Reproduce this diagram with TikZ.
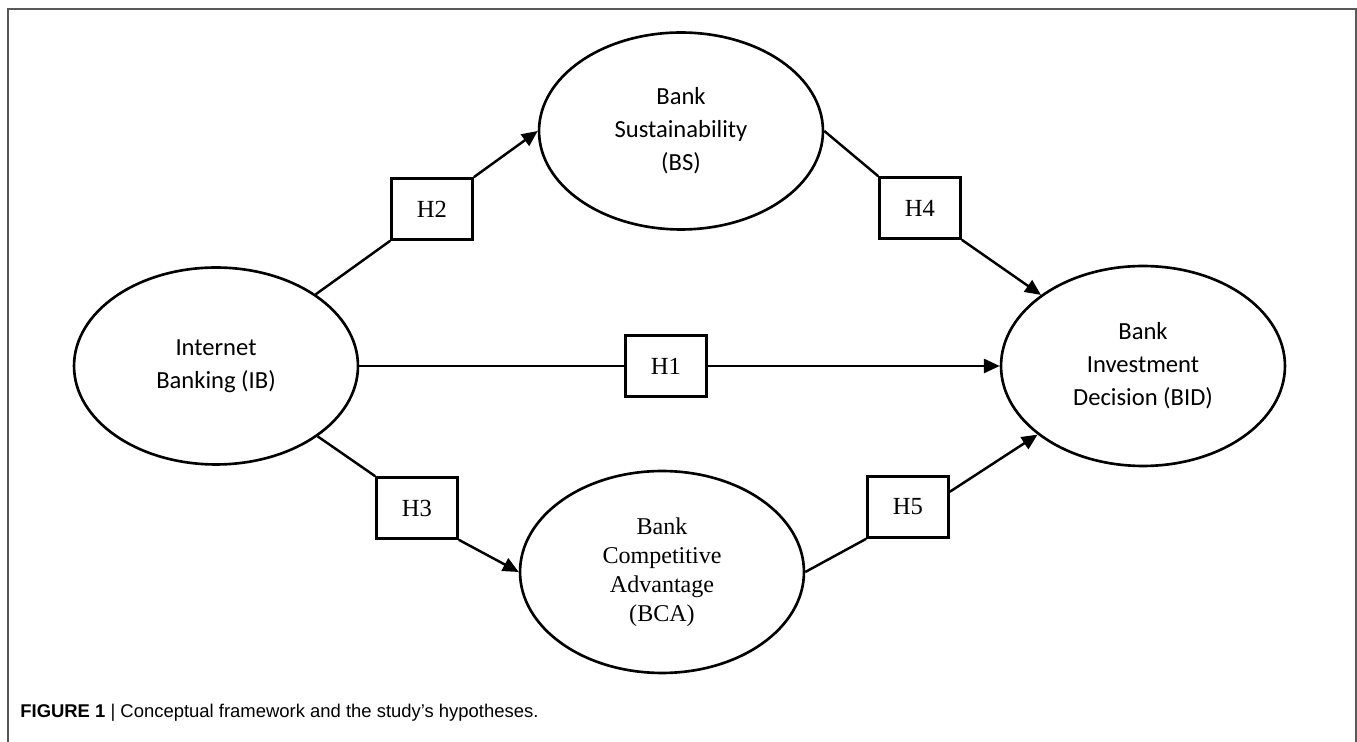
\documentclass[tikz,border=0pt]{standalone}
\usepackage{fontspec}
\usepackage{tikz}
\usetikzlibrary{shapes.geometric,arrows.meta,positioning}
\newfontfamily\calfont{Carlito}
\newfontfamily\timesfont{Liberation Serif}
\newfontfamily\capfont{Liberation Sans}

\begin{document}
\begin{tikzpicture}[x=0.02cm,y=-0.02cm,
    construct/.style={ellipse,draw,line width=1.5pt,minimum width=5.68cm,minimum height=3.94cm,
        inner sep=0pt,align=center,font=\calfont\fontsize{14}{18.7}\selectfont},
    hypo/.style={rectangle,draw,line width=1.5pt,minimum width=1.62cm,minimum height=1.22cm,
        fill=white,font=\timesfont\fontsize{14}{16}\selectfont},
    link/.style={line width=1.4pt},
    arr/.style={line width=1.4pt,-{Triangle[length=9pt,width=8pt]}}]
    \useasboundingbox (0,0) rectangle (1357,742);
    % frame round the figure
    \draw[gray!70!black,line width=1.1pt] (8,742) -- (8,9) -- (1356,9) -- (1356,742);

    % constructs
    \node[construct] (IB) at (216,366) {Internet\\Banking (IB)};
    \node[construct] (BS) at (681,131) {Bank\\Sustainability\\(BS)};
    \node[construct,minimum height=4cm] (BID) at (1143,366) {Bank\\Investment\\Decision (BID)};
    \node[construct,minimum height=4.04cm,font=\timesfont\fontsize{13.7}{16.5}\selectfont] (BCA) at (662,572)
        {Bank\\Competitive\\Advantage\\(BCA)};

    % hypotheses
    \node[hypo] (H2) at (432,209) {H2};
    \node[hypo] (H4) at (920,208) {H4};
    \node[hypo] (H1) at (666,366) {H1};
    \node[hypo] (H3) at (417,508) {H3};
    \node[hypo] (H5) at (908,507) {H5};

    % paths
    \draw[link] (IB) -- (H2.south west);
    \draw[arr] (H2.north east) -- (BS.west);
    \draw[link] (BS.east) -- (H4.north west);
    \draw[arr] (H4.south east) -- (BID);
    \draw[link] (IB.east) -- (H1.west);
    \draw[arr] (H1.east) -- (BID.west);
    \draw[link] (IB) -- (H3.north west);
    \draw[arr] (H3.south east) -- (BCA.west);
    \draw[link] (BCA.east) -- (H5.south west);
    \draw[arr] (H5.20) -- (BID);

    \node[anchor=west,inner sep=0pt,font=\capfont\fontsize{10.5}{12}\selectfont] (caption) at (20,713)
        {\textbf{FIGURE 1} | Conceptual framework and the study’s hypotheses.};
\end{tikzpicture}
\end{document}
